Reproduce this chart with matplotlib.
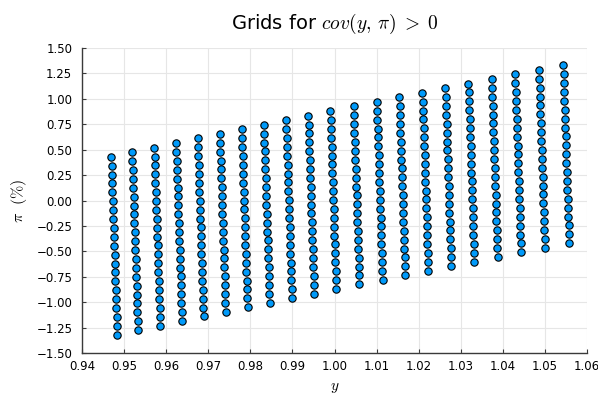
import matplotlib.pyplot as plt
import numpy as np

plt.rcParams['mathtext.fontset'] = 'cm'
plt.rcParams['font.family'] = 'DejaVu Sans'

# y position of each grid column (taken where pi = 0)
y_cols = [0.94730, 0.95229, 0.95759, 0.96281, 0.96797, 0.97327, 0.97850,
          0.98380, 0.98912, 0.99442, 0.99972, 1.00528, 1.01082, 1.01621,
          1.02175, 1.02722, 1.03275, 1.03831, 1.04392, 1.04962, 1.05542]
# highest pi (%) in each column
pi_tops = [0.430, 0.475, 0.520, 0.565, 0.610, 0.655, 0.700, 0.745, 0.790,
           0.835, 0.880, 0.925, 0.970, 1.015, 1.060, 1.105, 1.150, 1.195,
           1.240, 1.285, 1.330]
# distance of the 21 nodes below the column top
pi_steps = [0.0, 0.0875, 0.175, 0.2625, 0.35, 0.4375, 0.525, 0.6125, 0.70,
            0.7875, 0.875, 0.9625, 1.05, 1.1375, 1.225, 1.3125, 1.40, 1.4875,
            1.575, 1.6625, 1.75]
tilt = -0.0008  # columns lean: y shifts this much per unit of pi

xticks = [0.94, 0.95, 0.96, 0.97, 0.98, 0.99, 1.00, 1.01, 1.02, 1.03, 1.04, 1.05, 1.06]
yticks = [-1.5, -1.25, -1.0, -0.75, -0.5, -0.25, 0.0, 0.25, 0.5, 0.75, 1.0, 1.25, 1.5]

ys, pis = [], []
for yc, top in zip(y_cols, pi_tops):
    for d in pi_steps:
        p = top - d
        ys.append(yc + tilt * p)
        pis.append(p)

fig = plt.figure(figsize=(5.98, 3.97), dpi=100)
ax = fig.add_axes([82 / 598, 1 - 353 / 397, 505 / 598, 305 / 397])

ax.scatter(ys, pis, s=28, color='#009AFA', edgecolors='black',
           linewidths=0.8, zorder=3)

ax.set_xlim(0.94, 1.06)
ax.set_ylim(-1.5, 1.5)
ax.set_xticks(xticks)
ax.set_yticks(yticks)
ax.set_xticklabels([f'{t:.2f}' for t in xticks])
ax.set_yticklabels([f'{t:.2f}'.replace('-', '\u2212') for t in yticks])

ax.grid(True, color='#e6e6e6', linewidth=0.8, zorder=0)
ax.set_axisbelow(True)
for side in ('top', 'right'):
    ax.spines[side].set_visible(False)
for side in ('left', 'bottom'):
    ax.spines[side].set_color('#3a3a3a')
    ax.spines[side].set_linewidth(1.0)
ax.tick_params(direction='in', length=3, width=0.8, color='#3a3a3a',
               labelsize=8.5, labelcolor='black')
ax.tick_params(axis='x', pad=5)
ax.tick_params(axis='y', pad=7)

ax.set_title(r'Grids for $cov(y,\,\pi)\;>\;0$', fontsize=14, pad=14)
ax.set_xlabel(r'$y$', fontsize=11, labelpad=5)
ax.set_ylabel(r'$\pi\ \ (\%)$', fontsize=11.5, labelpad=5)

fig.savefig('out.png', dpi=100, facecolor='white')
